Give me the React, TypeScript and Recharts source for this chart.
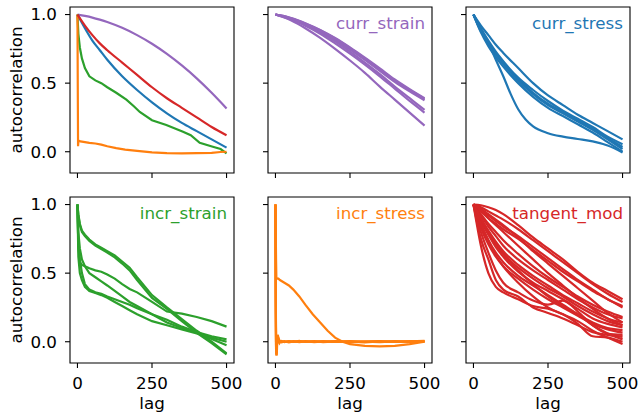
import React from 'react';
import { LineChart, Line, XAxis, YAxis, ReferenceArea } from 'recharts';

const FONT = '"DejaVu Sans", sans-serif';
const FS = 16.7;
const BLUE = '#1f77b4';
const ORANGE = '#ff7f0e';
const GREEN = '#2ca02c';
const RED = '#d62728';
const PURPLE = '#9467bd';

const X_TICKS = [0, 250, 500];
const Y_TICKS = [0, 0.5, 1.0];
const X_MIN = -25;
const X_MAX = 525;
const Y_MIN = -0.155;
const Y_MAX = 1.055;

// shared lag grids
const LAGS_A = [0, 25, 50, 75, 100, 150, 200, 250, 300, 350, 400, 450, 500];
const LAGS_G = [0, 3, 8, 15, 25, 40, 60, 80, 100, 125, 150, 175, 200, 250, 300, 350, 400, 450, 500];
const LAGS_FAST = [0, 1, 2, 3, 4, 5, 6, 8, 10, 13, 16, 20, 30, 45, 60, 80, 100, 130, 160, 200, 250, 300, 350, 400, 450, 500];

// ---- panel 1: overview (one curve per variable)
const ovPurple = [1, 0.99, 0.978, 0.963, 0.946, 0.903, 0.85, 0.787, 0.713, 0.629, 0.535, 0.43, 0.316];
const ovBlue = [1, 0.9, 0.81, 0.74, 0.67, 0.55, 0.45, 0.36, 0.28, 0.21, 0.15, 0.09, 0.03];
const ovRed = [1, 0.92, 0.85, 0.79, 0.74, 0.65, 0.56, 0.47, 0.39, 0.32, 0.25, 0.18, 0.12];
const ovGreenLags = [0, 3, 8, 15, 25, 40, 60, 80, 100, 130, 164, 190, 209, 250, 298, 354, 380, 410, 454, 480, 500];
const ovGreen = [1, 0.86, 0.76, 0.68, 0.61, 0.55, 0.52, 0.5, 0.47, 0.43, 0.38, 0.33, 0.29, 0.23, 0.195, 0.146, 0.12, 0.065, 0.036, 0.02, -0.012];
const ovOrangeLags = [0, 1, 2, 3, 5, 10, 20, 40, 60, 80, 100, 130, 160, 200, 250, 300, 350, 400, 450, 480, 500];
const ovOrange = [1, 0.5, 0.04, 0.07, 0.08, 0.075, 0.072, 0.065, 0.06, 0.052, 0.04, 0.026, 0.015, 0.006, -0.004, -0.01, -0.012, -0.01, -0.008, -0.002, 0.0];

// ---- panel 2: curr_strain
const cs1 = [1, 0.99, 0.975, 0.957, 0.935, 0.885, 0.825, 0.755, 0.68, 0.6, 0.52, 0.45, 0.385];
const cs2 = [1, 0.988, 0.972, 0.953, 0.93, 0.878, 0.815, 0.745, 0.67, 0.59, 0.51, 0.44, 0.375];
const cs3 = [1, 0.987, 0.97, 0.95, 0.925, 0.87, 0.805, 0.73, 0.65, 0.565, 0.475, 0.39, 0.305];
const cs4 = [1, 0.985, 0.965, 0.943, 0.918, 0.86, 0.79, 0.715, 0.635, 0.55, 0.46, 0.37, 0.285];
const cs5 = [1, 0.982, 0.96, 0.932, 0.9, 0.83, 0.75, 0.665, 0.575, 0.475, 0.38, 0.285, 0.19];
const cs6 = [1, 0.99, 0.976, 0.958, 0.937, 0.888, 0.829, 0.76, 0.685, 0.607, 0.527, 0.456, 0.39];

// ---- panel 3: curr_stress
const st1 = [1, 0.92, 0.85, 0.78, 0.72, 0.61, 0.5, 0.41, 0.34, 0.27, 0.21, 0.15, 0.09];
const st2 = [1, 0.9, 0.81, 0.73, 0.66, 0.54, 0.45, 0.37, 0.3, 0.24, 0.18, 0.11, 0.055];
const st3 = [1, 0.89, 0.8, 0.72, 0.65, 0.53, 0.43, 0.35, 0.29, 0.23, 0.17, 0.1, 0.035];
const st4 = [1, 0.88, 0.79, 0.71, 0.64, 0.52, 0.42, 0.34, 0.28, 0.22, 0.16, 0.09, 0.02];
const st5 = [1, 0.87, 0.77, 0.69, 0.62, 0.5, 0.4, 0.32, 0.26, 0.2, 0.14, 0.07, 0.0];
const st6Lags = [0, 25, 50, 75, 100, 125, 150, 175, 200, 250, 300, 350, 400, 450, 500];
const st6 = [1, 0.88, 0.79, 0.67, 0.55, 0.42, 0.31, 0.235, 0.185, 0.135, 0.11, 0.093, 0.075, 0.045, -0.005];

// ---- panel 4: incr_strain
const is1 = [1, 0.93, 0.86, 0.81, 0.78, 0.745, 0.71, 0.685, 0.66, 0.63, 0.585, 0.54, 0.47, 0.34, 0.25, 0.165, 0.08, 0.0, -0.085];
const is2 = [1, 0.92, 0.85, 0.8, 0.77, 0.735, 0.7, 0.675, 0.65, 0.615, 0.57, 0.52, 0.45, 0.32, 0.24, 0.15, 0.065, -0.01, -0.092];
const is3 = [1, 0.7, 0.58, 0.56, 0.55, 0.535, 0.52, 0.51, 0.49, 0.46, 0.42, 0.385, 0.36, 0.29, 0.22, 0.205, 0.18, 0.15, 0.11];
const is4 = [1, 0.62, 0.5, 0.45, 0.4, 0.37, 0.355, 0.34, 0.32, 0.29, 0.26, 0.23, 0.2, 0.15, 0.12, 0.09, 0.06, 0.03, 0.0];
const is5 = [1, 0.7, 0.6, 0.5, 0.42, 0.38, 0.36, 0.35, 0.33, 0.31, 0.29, 0.27, 0.245, 0.2, 0.14, 0.1, 0.07, 0.04, 0.017];
const is6 = [1, 0.8, 0.68, 0.6, 0.55, 0.5, 0.47, 0.44, 0.41, 0.37, 0.33, 0.29, 0.26, 0.2, 0.16, 0.11, 0.07, 0.02, -0.025];

// ---- panel 5: incr_stress
const ir1Lags = [0, 1, 2, 3, 5, 10, 15, 30, 45, 60, 80, 100, 125, 150, 175, 200, 225, 250, 300, 350, 400, 450, 500];
const ir1 = [1, 0.8, 0.6, 0.47, 0.46, 0.46, 0.45, 0.43, 0.41, 0.38, 0.33, 0.27, 0.2, 0.14, 0.08, 0.03, 0.0, -0.018, -0.03, -0.034, -0.03, -0.018, 0.0];
const ir2 = [1, 0.35, -0.02, -0.08, -0.1, -0.06, 0.02, 0.05, 0.03, 0.01, 0.0, 0.005, -0.003, 0.004, 0.0, 0.006, -0.002, 0.003, 0.0, 0.004, -0.003, 0.002, 0.005, -0.002, 0.003, 0.006];
const ir3 = [1, 0.3, -0.05, -0.1, -0.07, 0.0, 0.04, 0.02, 0.0, -0.01, 0.005, 0.0, 0.004, -0.004, 0.003, 0.0, 0.005, -0.003, 0.002, 0.0, 0.004, -0.002, 0.0, 0.004, -0.001, 0.003];
const ir4 = [1, 0.4, 0.0, -0.06, -0.08, -0.03, 0.03, 0.035, 0.01, 0.0, 0.002, -0.004, 0.0, 0.005, -0.002, 0.003, 0.0, 0.004, -0.003, 0.002, 0.0, -0.004, 0.002, 0.0, 0.004, 0.0];
const ir5 = [1, 0.25, -0.03, -0.09, -0.05, 0.01, 0.05, 0.03, 0.015, 0.004, -0.003, 0.003, 0.0, -0.002, 0.005, -0.003, 0.002, 0.0, 0.004, -0.002, 0.003, 0.001, -0.003, 0.003, 0.0, 0.004];

// ---- panel 6: tangent_mod
const tm1 = [1, 0.995, 0.98, 0.96, 0.93, 0.85, 0.76, 0.68, 0.6, 0.51, 0.43, 0.37, 0.31];
const tm2 = [1, 0.98, 0.95, 0.92, 0.89, 0.82, 0.74, 0.66, 0.58, 0.5, 0.42, 0.35, 0.29];
const tm3 = [1, 0.96, 0.92, 0.88, 0.84, 0.77, 0.69, 0.61, 0.53, 0.45, 0.38, 0.31, 0.26];
const tm4 = [1, 0.95, 0.9, 0.86, 0.82, 0.75, 0.67, 0.59, 0.51, 0.44, 0.37, 0.31, 0.25];
const tm5 = [1, 0.93, 0.86, 0.8, 0.74, 0.64, 0.55, 0.47, 0.4, 0.33, 0.27, 0.22, 0.18];
const tm6 = [1, 0.92, 0.84, 0.77, 0.7, 0.6, 0.52, 0.45, 0.38, 0.31, 0.25, 0.2, 0.17];
const tm7 = [1, 0.9, 0.81, 0.73, 0.66, 0.56, 0.48, 0.41, 0.34, 0.28, 0.22, 0.17, 0.14];
const tm8 = [1, 0.89, 0.79, 0.71, 0.64, 0.54, 0.46, 0.39, 0.33, 0.26, 0.2, 0.15, 0.12];
const tm9 = [1, 0.88, 0.78, 0.69, 0.62, 0.51, 0.43, 0.37, 0.31, 0.24, 0.17, 0.13, 0.105];
const tm10 = [1, 0.85, 0.74, 0.65, 0.58, 0.48, 0.41, 0.34, 0.27, 0.2, 0.14, 0.1, 0.085];
const tm11 = [1, 0.83, 0.71, 0.62, 0.55, 0.46, 0.38, 0.31, 0.25, 0.19, 0.13, 0.09, 0.066];
const tm12 = [1, 0.8, 0.65, 0.52, 0.43, 0.36, 0.3, 0.27, 0.3, 0.22, 0.12, 0.06, 0.05];
const tm13 = [1, 0.7, 0.5, 0.4, 0.36, 0.31, 0.26, 0.24, 0.2, 0.13, 0.04, 0.03, 0.0];
const tm14 = [1, 0.75, 0.6, 0.45, 0.38, 0.33, 0.25, 0.21, 0.17, 0.12, 0.07, 0.05, 0.036];
const tm15 = [1, 0.86, 0.74, 0.63, 0.55, 0.43, 0.33, 0.25, 0.2, 0.15, 0.08, 0.03, -0.017];
const tm16 = [1, 0.9, 0.8, 0.72, 0.64, 0.52, 0.42, 0.33, 0.26, 0.2, 0.12, 0.06, 0.017];
const tm17 = [1, 0.97, 0.93, 0.89, 0.85, 0.76, 0.66, 0.57, 0.48, 0.39, 0.3, 0.21, 0.14];
const tm18 = [1, 0.96, 0.9, 0.85, 0.8, 0.7, 0.6, 0.5, 0.41, 0.32, 0.24, 0.17, 0.12];

type S = { lags: number[]; values: number[]; color: string; smooth?: boolean };
const pts = (lags: number[], values: number[]) => lags.map((lag, i) => ({ lag, v: values[i] }));

const PLOT_LEFT = [70, 268, 466];
const PLOT_TOP = [7, 197];
const PW = 164;
const PH = 166;

type PanelSpec = { col: number; row: number; title?: string; color?: string; series: S[] };

const panels: PanelSpec[] = [
  {
    col: 0, row: 0,
    series: [
      { lags: LAGS_A, values: ovPurple, color: PURPLE, smooth: true },
      { lags: LAGS_A, values: ovBlue, color: BLUE, smooth: true },
      { lags: ovGreenLags, values: ovGreen, color: GREEN },
      { lags: ovOrangeLags, values: ovOrange, color: ORANGE },
      { lags: LAGS_A, values: ovRed, color: RED, smooth: true },
    ],
  },
  {
    col: 1, row: 0, title: 'curr_strain', color: PURPLE,
    series: [cs1, cs2, cs3, cs4, cs5, cs6].map((v) => ({ lags: LAGS_A, values: v, color: PURPLE, smooth: true })),
  },
  {
    col: 2, row: 0, title: 'curr_stress', color: BLUE,
    series: [
      ...[st1, st2, st3, st4, st5].map((v) => ({ lags: LAGS_A, values: v, color: BLUE, smooth: true })),
      { lags: st6Lags, values: st6, color: BLUE, smooth: true },
    ],
  },
  {
    col: 0, row: 1, title: 'incr_strain', color: GREEN,
    series: [is1, is2, is3, is4, is5, is6].map((v) => ({ lags: LAGS_G, values: v, color: GREEN })),
  },
  {
    col: 1, row: 1, title: 'incr_stress', color: ORANGE,
    series: [
      { lags: ir1Lags, values: ir1, color: ORANGE },
      ...[ir2, ir3, ir4, ir5].map((v) => ({ lags: LAGS_FAST, values: v, color: ORANGE })),
    ],
  },
  {
    col: 2, row: 1, title: 'tangent_mod', color: RED,
    series: [tm1, tm2, tm3, tm4, tm5, tm6, tm7, tm8, tm9, tm10, tm11, tm12, tm13, tm14, tm15, tm16, tm17, tm18].map((v) => ({
      lags: LAGS_A, values: v, color: RED, smooth: true,
    })),
  },
];

function Panel({ spec }: { spec: PanelSpec }) {
  const { col, row, title, color, series } = spec;
  const yW = col === 0 ? 70 : 20;
  const xH = row === 0 ? 20 : 53;
  const mt = 4;
  const mr = 14;
  const W = yW + PW + mr;
  const H = mt + PH + xH;
  const textStyle = { fontFamily: FONT, fontSize: FS };

  const xLabel = () => (
    <text x={yW + PW / 2} y={mt + PH + 45.7} textAnchor="middle" fill="#000" style={textStyle}>
      lag
    </text>
  );
  const yLabel = () => {
    const cx = 21.5;
    const cy = mt + PH / 2;
    return (
      <text x={cx} y={cy} textAnchor="middle" fill="#000" transform={`rotate(-90, ${cx}, ${cy})`} style={textStyle}>
        autocorrelation
      </text>
    );
  };
  const titleLabel = () => (
    <text x={yW + PW - 7} y={mt + 21.5} textAnchor="end" fill={color} style={textStyle}>
      {title}
    </text>
  );

  return (
    <div style={{ position: 'absolute', left: PLOT_LEFT[col] - yW, top: PLOT_TOP[row] - mt, width: W, height: H }}>
      <LineChart width={W} height={H} margin={{ top: mt, right: mr, bottom: 0, left: 0 }}>
        <XAxis
          type="number"
          dataKey="lag"
          domain={[X_MIN, X_MAX]}
          ticks={X_TICKS}
          allowDataOverflow
          interval={0}
          height={xH}
          axisLine={false}
          tickSize={5}
          tickMargin={9}
          tickLine={{ stroke: '#000', strokeWidth: 1.1 }}
          tick={{ fill: '#000', fontSize: FS, fontFamily: FONT }}
          tickFormatter={row === 0 ? () => '' : (v: number) => String(v)}
          label={row === 1 ? xLabel : undefined}
        />
        <YAxis
          type="number"
          dataKey="v"
          domain={[Y_MIN, Y_MAX]}
          ticks={Y_TICKS}
          allowDataOverflow
          interval={0}
          width={yW}
          axisLine={false}
          tickSize={5}
          tickMargin={8}
          tickLine={{ stroke: '#000', strokeWidth: 1.1 }}
          tick={{ fill: '#000', fontSize: FS, fontFamily: FONT }}
          tickFormatter={col === 0 ? (v: number) => v.toFixed(1) : () => ''}
          label={col === 0 ? yLabel : undefined}
        />
        {series.map((s, i) => (
          <Line
            key={i}
            data={pts(s.lags, s.values)}
            dataKey="v"
            type={s.smooth ? 'monotone' : 'linear'}
            stroke={s.color}
            strokeWidth={2.2}
            dot={false}
            activeDot={false}
            isAnimationActive={false}
          />
        ))}
        <ReferenceArea
          x1={X_MIN}
          x2={X_MAX}
          y1={Y_MIN}
          y2={Y_MAX}
          fill="none"
          fillOpacity={0}
          stroke="#000"
          strokeWidth={1.1}
          ifOverflow="visible"
          label={title ? titleLabel : undefined}
        />
      </LineChart>
    </div>
  );
}

export default function App() {
  return (
    <div style={{ position: 'absolute', left: 0, top: 0, width: 639, height: 416, background: '#fff', fontFamily: FONT }}>
      {panels.map((p, i) => (
        <Panel key={i} spec={p} />
      ))}
    </div>
  );
}
